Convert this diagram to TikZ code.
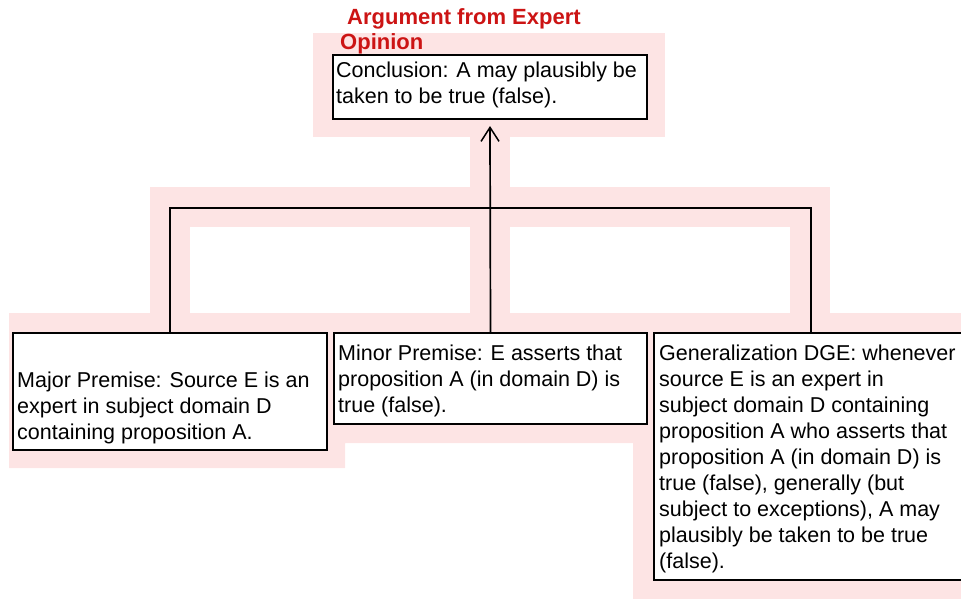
\documentclass[tikz,border=0pt]{standalone}
\usepackage{fontspec}
\setmainfont{Liberation Sans}
\usetikzlibrary{arrows.meta}
\definecolor{hilite}{RGB}{253,228,228}
\definecolor{titlered}{RGB}{204,20,20}
\begin{document}
\begin{tikzpicture}[x=1pt,y=-1pt,
  box/.style={draw=black, line width=1.7pt, fill=white, inner sep=0pt,
    outer sep=0pt, anchor=north west},
  txt/.style={anchor=north west, inner sep=0pt, align=left,
    font=\fontsize{21.5}{26}\selectfont},
  heading/.style={anchor=north west, inner sep=0pt, align=left,
    text=titlered, font=\bfseries\fontsize{22}{25}\selectfont},
  link/.style={draw=black, line width=1.7pt},
  band/.style={fill=hilite, draw=none}]

\useasboundingbox (0,0) rectangle (961,598);

% highlight band behind the argument structure
\fill[band] (313,33) rectangle (665,137);
\fill[band] (470,137) rectangle (510,187);
\fill[band] (150,187) rectangle (830,227);
\fill[band] (150,227) rectangle (190,313);
\fill[band] (470,227) rectangle (510,313);
\fill[band] (790,227) rectangle (830,313);
\fill[band] (9,313) -- (970,313) -- (970,605) -- (633,605) -- (633,443)
  -- (345,443) -- (345,468) -- (9,468) -- cycle;

% scheme title
\node[heading] (title) at (340,6.5)
  {\hspace*{7pt}\strut Argument from Expert\\Opinion};

% boxes
\node[box, minimum width=314pt, minimum height=64pt]  (concl) at (333,55) {};
\node[box, minimum width=314pt, minimum height=117pt] (major) at (13,333) {};
\node[box, minimum width=313pt, minimum height=91pt]  (minor) at (334,333) {};
\node[box, minimum width=314pt, minimum height=247pt] (gen)   at (654,333) {};

% box texts
\node[txt] (conclt) at (336,58.8)
  {\strut Conclusion: A may plausibly be\\taken to be true (false).};
\node[txt] (majort) at (17,368.8)
  {\strut Major Premise: Source E is an\\expert in subject domain D\\containing proposition A.};
\node[txt] (minort) at (338,341.8)
  {\strut Minor Premise: E asserts that\\proposition A (in domain D) is\\true (false).};
\node[txt] (gent) at (659,341.8)
  {\strut Generalization DGE: whenever\\source E is an expert in\\subject domain D containing\\proposition A who asserts that\\proposition A (in domain D) is\\true (false), generally (but\\subject to exceptions), A may\\plausibly be taken to be true\\(false).};

% connectors
\coordinate (join) at (490,208);
\draw[link] (major.north) |- (join) -| (gen.north);
\draw[link, -{Straight Barb[length=14pt, width=18pt, line width=1.5pt]}]
  (minor.north) -- ([yshift=-7pt]concl.south);
\end{tikzpicture}
\end{document}
